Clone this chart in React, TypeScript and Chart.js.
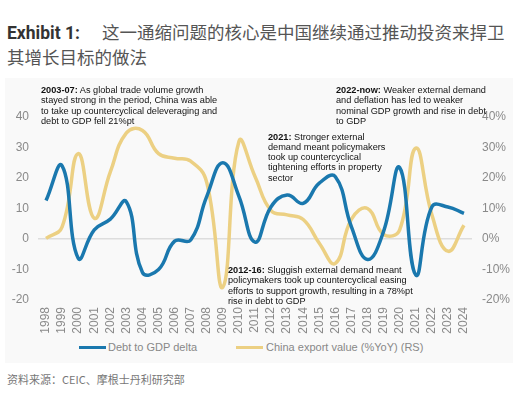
import React, { useEffect, useRef } from "react";
import { Chart, registerables } from "chart.js";

Chart.register(...registerables);

const years = ["1998","1999","2000","2001","2002","2003","2004","2005","2006","2007","2008","2009","2010","2011","2012","2013","2014","2015","2016","2017","2018","2019","2020","2021","2022","2023","2024"];
const debtToGdpDelta = [12.6, 24, -6.3, 3, 6.5, 12.2, -11, -10, -0.7, -0.3, 14, 25, 14, -1, 10.6, 14.4, 11.7, 18.3, 20.4, 4, -6.7, 2.5, 23.4, -11.8, 10.5, 10.5, 8.4];
const chinaExportYoY = [0.2, 4, 28, 6.8, 22, 34.8, 35.6, 28, 26.5, 25.5, 18.5, -15.8, 32, 20.5, 9.3, 7.9, 6.4, -1.4, -8, 6.5, 10, 1.5, 3, 29.8, 8, -4, 4.5];
const leftTicks = [-20, -10, 0, 10, 20, 30, 40];
const seriesNames = ["Debt to GDP delta", "China export value (%YoY) (RS)"];

const BLUE = "#1a78ae";
const GOLD = "#ecd083";
const TICK_FONT = { family: "'Liberation Sans', Arial, sans-serif", size: 12 };

export default function App() {
  const ref = useRef<HTMLCanvasElement | null>(null);

  useEffect(() => {
    if (!ref.current) return;
    const chart = new Chart(ref.current, {
      type: "line",
      data: {
        labels: years,
        datasets: [
          {
            label: seriesNames[0],
            data: debtToGdpDelta,
            borderColor: BLUE,
            backgroundColor: BLUE,
            borderWidth: 3.5,
            pointRadius: 0,
            tension: 0.45,
            yAxisID: "y",
          },
          {
            label: seriesNames[1],
            data: chinaExportYoY,
            borderColor: GOLD,
            backgroundColor: GOLD,
            borderWidth: 3.5,
            pointRadius: 0,
            tension: 0.45,
            yAxisID: "y2",
          },
        ],
      },
      options: {
        animation: false,
        responsive: false,
        maintainAspectRatio: false,
        layout: { padding: { top: 39, bottom: 0, left: 0, right: 0 } },
        plugins: { legend: { display: false }, tooltip: { enabled: false } },
        scales: {
          x: {
            offset: true,
            grid: { display: false, drawTicks: false },
            border: { display: false },
            ticks: {
              minRotation: 90,
              maxRotation: 90,
              padding: 7,
              color: "#8a8a8a",
              font: TICK_FONT,
              autoSkip: false,
            },
            afterFit: (s: any) => { s.height = 40; },
          },
          y: {
            position: "left",
            min: leftTicks[0],
            max: leftTicks[leftTicks.length - 1],
            afterBuildTicks: (s: any) => { s.ticks = leftTicks.map((v) => ({ value: v })); },
            grid: {
              drawTicks: false,
              color: (c: any) => (c.tick && c.tick.value === 0 ? "#dddddd" : "rgba(0,0,0,0)"),
              lineWidth: 1.5,
            },
            border: { display: false },
            ticks: { padding: 9, color: "#8a8a8a", font: TICK_FONT },
            afterFit: (s: any) => { s.width = 38; },
          },
          y2: {
            position: "right",
            min: leftTicks[0],
            max: leftTicks[leftTicks.length - 1],
            afterBuildTicks: (s: any) => { s.ticks = leftTicks.map((v) => ({ value: v })); },
            grid: { display: false, drawTicks: false },
            border: { display: false },
            ticks: {
              padding: 10,
              color: "#8a8a8a",
              font: TICK_FONT,
              callback: (v: any) => `${v}%`,
            },
            afterFit: (s: any) => { s.width = 59; },
          },
        },
      },
    });
    return () => chart.destroy();
  }, []);

  const ann: React.CSSProperties = {
    position: "absolute",
    fontFamily: "'Liberation Sans', Arial, sans-serif",
    fontSize: 9.2,
    lineHeight: "10.3px",
    color: "#111",
    whiteSpace: "nowrap",
  };
  const legendText: React.CSSProperties = {
    position: "absolute",
    top: 340,
    fontFamily: "'Liberation Sans', Arial, sans-serif",
    fontSize: 11,
    lineHeight: "14px",
    color: "#888",
    whiteSpace: "nowrap",
  };

  return (
    <div style={{ position: "fixed", left: 0, top: 0, width: 531, height: 396, background: "#fff", overflow: "hidden" }}>
      <div style={{ position: "absolute", left: 7, top: 21, fontFamily: "Roboto, 'Noto Sans CJK SC', sans-serif", fontSize: 17.5, lineHeight: "24.5px", color: "#555", whiteSpace: "nowrap" }}>
        <span style={{ fontWeight: 700, color: "#333" }}>Exhibit 1:</span>
        <span style={{ marginLeft: 22 }}>这一通缩问题的核心是中国继续通过推动投资来捍卫</span>
        <br />
        其增长目标的做法
      </div>
      <div style={{ position: "absolute", left: 5, top: 78, width: 508, height: 285, background: "#f9f9f9" }} />
      <canvas ref={ref} width={531} height={262} style={{ position: "absolute", left: 0, top: 78, width: 531, height: 262 }} />
      <div style={{ ...ann, left: 41, top: 85 }}>
        <b>2003-07:</b> As global trade volume growth<br />
        stayed strong in the period, China was able<br />
        to take up countercyclical deleveraging and<br />
        debt to GDP fell 21%pt
      </div>
      <div style={{ ...ann, left: 336, top: 85 }}>
        <b>2022-now:</b> Weaker external demand<br />
        and deflation has led to weaker<br />
        nominal GDP growth and rise in debt<br />
        to GDP
      </div>
      <div style={{ ...ann, left: 268, top: 131.5 }}>
        <b>2021:</b> Stronger external<br />
        demand meant policymakers<br />
        took up countercyclical<br />
        tightening efforts in property<br />
        sector
      </div>
      <div style={{ ...ann, left: 228, top: 265 }}>
        <b>2012-16:</b> Sluggish external demand meant<br />
        policymakers took up countercyclical easing<br />
        efforts to support growth, resulting in a 78%pt<br />
        rise in debt to GDP
      </div>
      <div style={{ position: "absolute", left: 79, top: 345.5, width: 27, height: 3, background: BLUE }} />
      <div style={{ ...legendText, left: 108 }}>{seriesNames[0]}</div>
      <div style={{ position: "absolute", left: 236, top: 345.5, width: 27, height: 3, background: GOLD }} />
      <div style={{ ...legendText, left: 266 }}>{seriesNames[1]}</div>
      <div style={{ position: "absolute", left: 7, top: 371, fontFamily: "'Noto Sans CJK SC', sans-serif", fontSize: 11, lineHeight: "16px", color: "#777", whiteSpace: "nowrap" }}>
        资料来源：CEIC、摩根士丹利研究部
      </div>
    </div>
  );
}
